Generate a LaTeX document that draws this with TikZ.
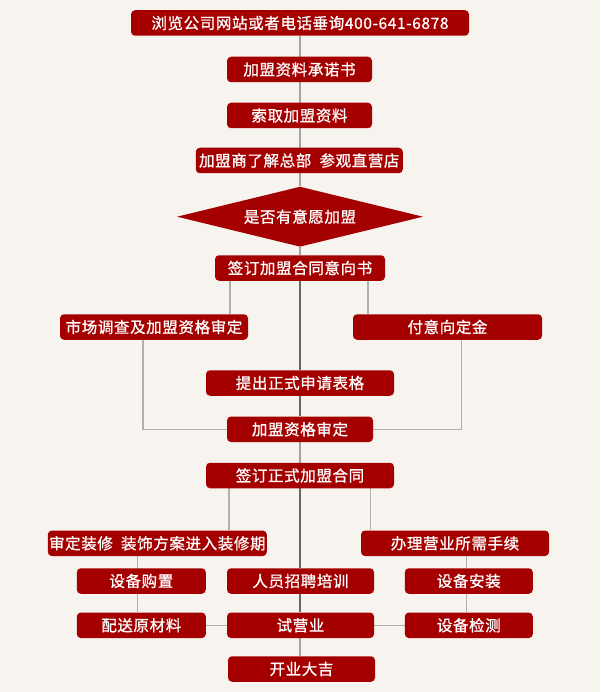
\documentclass[tikz,border=0pt]{standalone}
\usepackage{fontspec}
\newfontfamily\cjk{Noto Sans CJK SC}[FakeBold=0.9,LetterSpace=4]
\usetikzlibrary{shapes.geometric}
\definecolor{bgc}{HTML}{F7F3EE}
\definecolor{boxred}{HTML}{A50000}
\definecolor{midgray}{HTML}{A3A3A3}
\definecolor{darkline}{HTML}{666666}
\definecolor{sidegray}{HTML}{B0B0B0}
\pgfdeclarelayer{backdrop}
\pgfdeclarelayer{bg}
\pgfsetlayers{backdrop,bg,main}
\tikzset{
  stepbox/.style={fill=boxred, rounded corners=4pt, text=white, inner sep=0pt,
    font=\cjk\fontsize{15.5}{16}\selectfont, minimum height=25.5pt},
  decbox/.style={diamond, fill=boxred, text=white, inner sep=0pt, aspect=4.1,
    font=\cjk\fontsize{15.5}{16}\selectfont},
  mainline/.style={draw=midgray, line width=2.2pt},
  darkmain/.style={draw=darkline, line width=2.2pt},
  sideline/.style={draw=sidegray, line width=1.2pt},
}
\begin{document}
\begin{tikzpicture}[x=1pt,y=-1pt]
\begin{pgfonlayer}{backdrop}
\fill[bgc] (0,0) rectangle (600,692);
\end{pgfonlayer}
\useasboundingbox (0,0) rectangle (600,692);

\node[stepbox, minimum width=338] (n1) at (300,23) {浏览公司网站或者电话垂询400-641-6878};
\node[stepbox, minimum width=145] (n2) at (299.5,69.5) {加盟资料承诺书};
\node[stepbox, minimum width=145] (n3) at (299.5,115.5) {索取加盟资料};
\node[stepbox, minimum width=207] (n4) at (299.3,160.5) {加盟商了解总部\ \ 参观直营店};
\node[decbox, minimum width=246, minimum height=60] (d) at (300,216.7) {是否有意愿加盟};
\node[stepbox, minimum width=170] (n5) at (300,268) {签订加盟合同意向书};
\node[stepbox, minimum width=188] (n6) at (154,327) {市场调查及加盟资格审定};
\node[stepbox, minimum width=189] (n7) at (447.5,327) {付意向定金};
\node[stepbox, minimum width=188] (n8) at (300,383) {提出正式申请表格};
\node[stepbox, minimum width=146] (n9) at (300,429.3) {加盟资格审定};
\node[stepbox, minimum width=188] (n10) at (300,475.5) {签订正式加盟合同};
\node[stepbox, minimum width=219] (n11) at (157.3,543.3) {审定装修\ \ 装饰方案进入装修期};
\node[stepbox, minimum width=188] (n12) at (455,543.3) {办理营业所需手续};
\node[stepbox, minimum width=129] (n13) at (141.3,581) {设备购置};
\node[stepbox, minimum width=147] (n14) at (300.5,581) {人员招聘培训};
\node[stepbox, minimum width=128] (n15) at (468.8,581) {设备安装};
\node[stepbox, minimum width=129] (n16) at (141.3,625.3) {配送原材料};
\node[stepbox, minimum width=147] (n17) at (300.5,625.3) {试营业};
\node[stepbox, minimum width=128] (n18) at (468.8,625.3) {设备检测};
\node[stepbox, minimum width=147] (n19) at (301.5,669) {开业大吉};

\begin{pgfonlayer}{bg}
\draw[mainline] (n1.south -| 300,0) -- (n2.north -| 300,0);
\draw[mainline] (n2.south -| 300,0) -- (n3.north -| 300,0);
\draw[mainline] (n3.south -| 300,0) -- (n4.north -| 300,0);
\draw[mainline] (n4.south -| 300,0) -- (d.north);
\draw[mainline] (d.south) -- (n5.north);
\draw[darkmain] (n5.south) -- (n8.north);
\draw[darkmain] (n8.south) -- (n9.north);
\draw[mainline] (n9.south) -- (n10.north);
\draw[darkmain] (n10.south) -- (n14.north -| n10.south);
\draw[darkmain] (n14.south -| n10.south) -- (n17.north -| n10.south);
\draw[mainline] (n17.south -| n10.south) -- (n19.north -| n10.south);

\draw[sideline] (n5.south -| 230,0) -- (n6.north -| 230,0);
\draw[sideline] (n5.south -| 368,0) -- (n7.north -| 368,0);
\draw[sideline] (n6.south -| 143,0) |- (n9.west);
\draw[sideline] (n7.south -| 461.7,0) |- (n9.east);

\draw[sideline] (n10.south -| 229,0) -- (n11.north -| 229,0);
\draw[sideline] (n10.south -| 370.7,0) -- (n12.north -| 370.7,0);
\draw[sideline] (n11.south -| 137.3,0) -- (n13.north -| 137.3,0);
\draw[sideline] (n13.south -| 137.3,0) -- (n16.north -| 137.3,0);
\draw[sideline] (n12.south -| 466.7,0) -- (n15.north -| 466.7,0);
\draw[sideline] (n15.south -| 466.7,0) -- (n18.north -| 466.7,0);
\draw[sideline] (n16.east) -- (n17.west);
\draw[sideline] (n17.east) -- (n18.west);
\end{pgfonlayer}
\end{tikzpicture}
\end{document}
